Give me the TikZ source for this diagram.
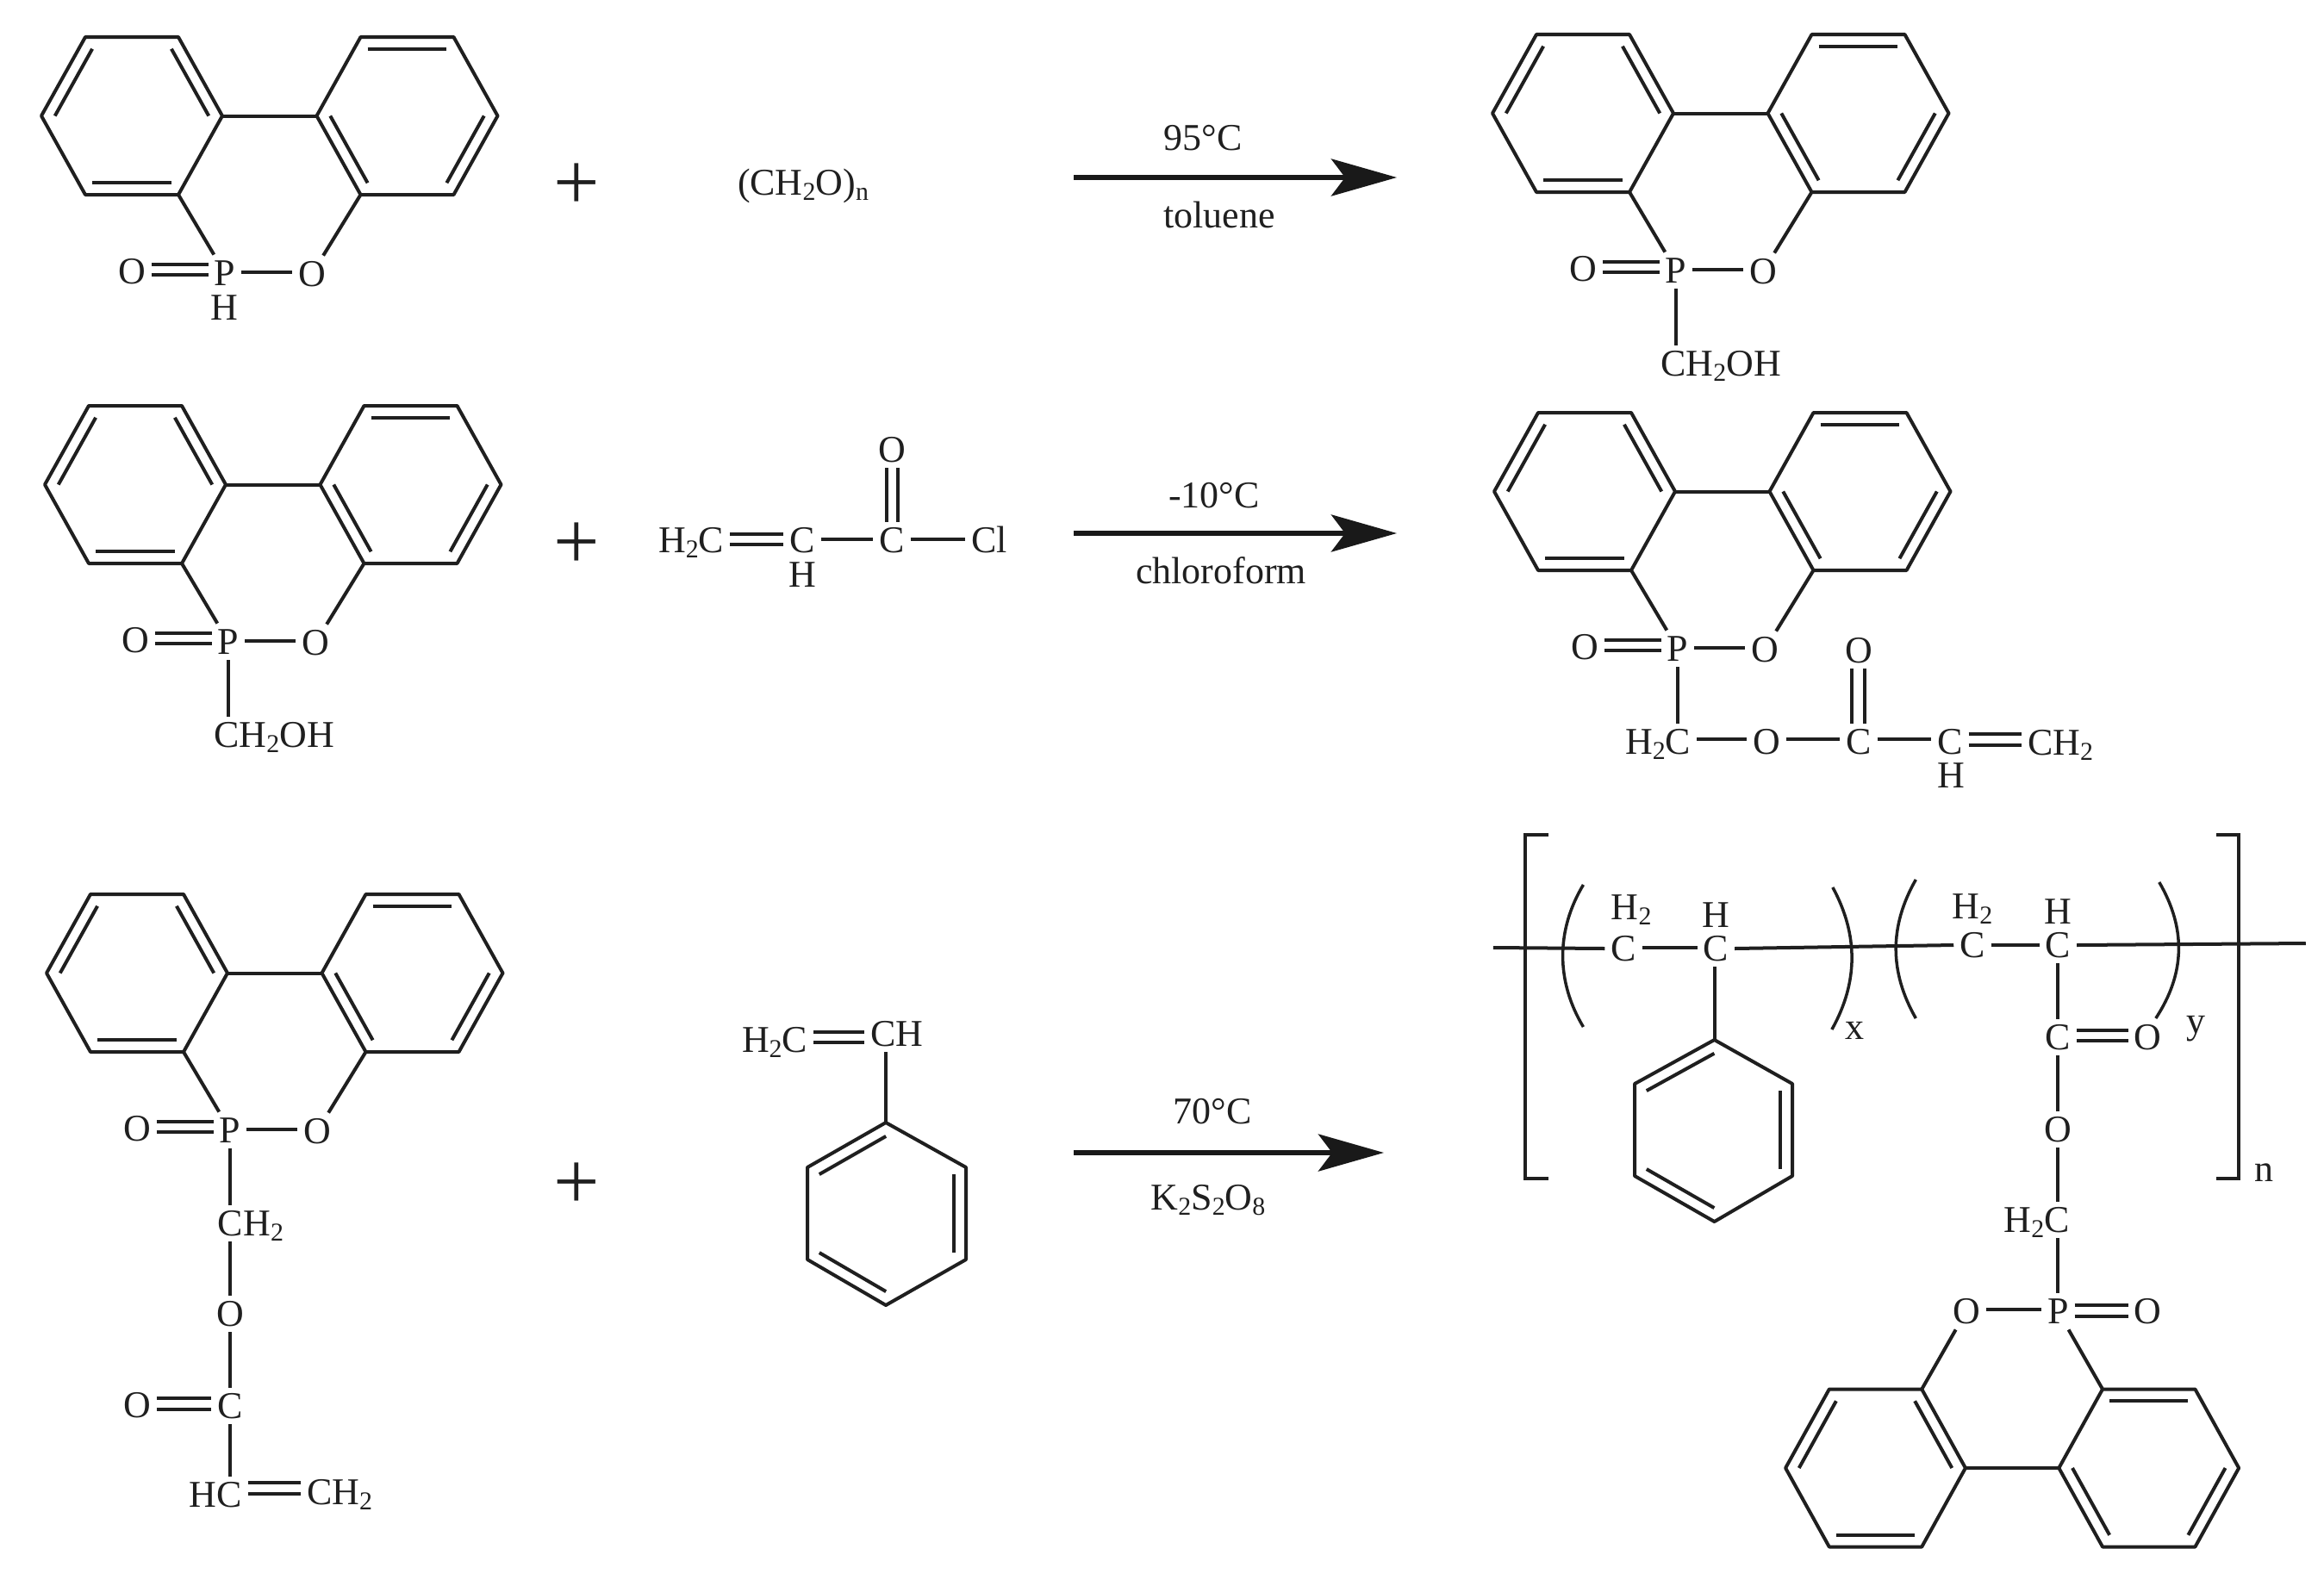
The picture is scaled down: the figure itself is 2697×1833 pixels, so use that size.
\documentclass[tikz,border=0pt]{standalone}
\usepackage{fontspec}
\setmainfont{Liberation Serif}
\usetikzlibrary{calc,arrows.meta}
\newcommand\sbs[1]{\raisebox{-.32ex}{\fontsize{8.5}{9}\selectfont #1}}
\tikzset{
  bond/.style={line width=.4mm,line join=round,black!88},
  atom/.style={font=\fontsize{12.5}{14}\selectfont,inner sep=0pt,outer sep=.7mm,text height=8.2pt,text depth=0pt,text=black!88},
  plusn/.style={font=\fontsize{27}{28}\selectfont,inner sep=0pt,text=black!88},
  rxn/.style={line width=.6mm,black!90,-{Stealth[length=7.6mm,width=4.3mm,inset=1.6mm]}},
  brk/.style={line width=.4mm,black!88},
  par/.style={line width=.35mm,black!88}
}
% single bond, horizontal, u px above the centre of the first atom
\newcommand\sbh[3]{\draw[bond] ([yshift={#3*.1mm}]#1.east) -- ([yshift={#3*.1mm}]#1.east -| #2.west);}
% double bond, horizontal
\newcommand\dbh[4]{\sbh{#1}{#2}{#3}\sbh{#1}{#2}{#4}}
% vertical bond from the foot of a to the head of b, on the line of a
\newcommand\sbv[2]{\draw[bond] (#1.south) -- (#2.north -| #1.south);}
% double bond, vertical
\newcommand\dbv[4]{\draw[bond] ([xshift={#3*.1mm}]#1.south) -- ([xshift={#3*.1mm}]#2.north);\draw[bond] ([xshift={#4*.1mm}]#1.south) -- ([xshift={#4*.1mm}]#2.north);}
% inner line of a ring's double bond
\newcommand\ibd[3]{\draw[bond] ($(#1)!.85!(#2)$) -- ($(#1)!.85!(#3)$);}
% a flat-topped six-ring: name, centre x, centre y
\newcommand\hexr[3]{%
  \coordinate (#1c) at (#2,#3);
  \coordinate (#11) at ({#2-105},#3);
  \coordinate (#12) at ({#2-54},{#3-91.5});
  \coordinate (#13) at ({#2+54},{#3-91.5});
  \coordinate (#14) at ({#2+105},#3);
  \coordinate (#15) at ({#2+54},{#3+91.5});
  \coordinate (#16) at ({#2-54},{#3+91.5});
  \draw[bond] (#11) -- (#12) -- (#13) -- (#14) -- (#15) -- (#16) -- cycle;}
% the phosphaphenanthrene unit: prefix, dx, dy
\newcommand\dopo[3]{%
  \begin{scope}[shift={(#2,#3)}]
    \hexr{#1L}{153}{134.5}
    \hexr{#1R}{472.5}{134.5}
    \ibd{#1Lc}{#1L1}{#1L2}
    \ibd{#1Lc}{#1L3}{#1L4}
    \ibd{#1Lc}{#1L5}{#1L6}
    \ibd{#1Rc}{#1R2}{#1R3}
    \ibd{#1Rc}{#1R1}{#1R6}
    \ibd{#1Rc}{#1R4}{#1R5}
    \draw[bond] (#1L4) -- (#1R1);
    \node[atom] (#1P) at (261,317) {P};
    \node[atom] (#1O) at (362,318) {O};
    \node[atom] (#1E) at (153,315) {O};
    \draw[bond] (#1L5) -- (#1P);
    \draw[bond] (#1R6) -- (#1O);
    \dbh{#1E}{#1P}{8}{-4}
    \sbh{#1P}{#1O}{1}
  \end{scope}}
\begin{document}
\begin{tikzpicture}[x=.01cm,y=-.01cm]
\useasboundingbox (0,0) rectangle (2697,1833);

% ---------- row 1
\dopo{a}{0}{0}
\node[atom] (aH) at (260,357) {H};
\node[plusn] (p1) at (669,217) {+};
\node[atom] (form) at (932,212) {(CH\sbs{2}O)\sbs{n}};
\coordinate (r1s) at (1246,206);
\coordinate (r1e) at (1621,206);
\draw[rxn] (r1s) -- (r1e);
\node[atom] (r1t) at (1396,160) {95°C};
\node[atom] (r1b) at (1415,250) {toluene};
\dopo{d}{1684}{-3}
\node[atom] (dCH) at (1997,422) {CH\sbs{2}OH};
\sbv{dP}{dCH}

% ---------- row 2
\dopo{b}{4}{428}
\node[atom] (bCH) at (318,853) {CH\sbs{2}OH};
\sbv{bP}{bCH}
\node[plusn] (p2) at (669,634) {+};
\node[atom] (ac1) at (802,627) {H\sbs{2}C};
\node[atom] (ac2) at (931,627) {C};
\node[atom] (ac2h) at (931,667) {H};
\node[atom] (ac3) at (1035,627) {C};
\node[atom] (acO) at (1035,522) {O};
\node[atom] (acCl) at (1148,627) {Cl};
\dbh{ac1}{ac2}{7}{-5}
\sbh{ac2}{ac3}{1}
\sbh{ac3}{acCl}{1}
\dbv{acO}{ac3}{-6}{7}
\coordinate (r2s) at (1246,619);
\coordinate (r2e) at (1621,619);
\draw[rxn] (r2s) -- (r2e);
\node[atom] (r2t) at (1409,575) {-10°C};
\node[atom] (r2b) at (1417,663) {chloroform};
\dopo{e}{1686}{436}
\node[atom] (eC1) at (1924,861) {H\sbs{2}C};
\node[atom] (eO) at (2050,861) {O};
\node[atom] (eC2) at (2157,861) {C};
\node[atom] (eO2) at (2157,755) {O};
\node[atom] (eC3) at (2263,861) {C};
\node[atom] (eH) at (2264,900) {H};
\node[atom] (eC4) at (2391,862) {CH\sbs{2}};
\draw[bond] (eP.south) -- (eC1.north -| eP.south);
\sbh{eC1}{eO}{3}
\sbh{eO}{eC2}{3}
\sbh{eC2}{eC3}{3}
\dbh{eC3}{eC4}{9}{-4}
\dbv{eO2}{eC2}{-8}{7}

% ---------- row 3
\dopo{c}{6}{995}
\node[atom] (cC1) at (291,1420) {CH\sbs{2}};
\node[atom] (cO) at (267,1525) {O};
\node[atom] (cC2) at (267,1632) {C};
\node[atom] (cE) at (159,1631) {O};
\node[atom] (cC3) at (250,1735) {HC};
\node[atom] (cC4) at (394,1732) {CH\sbs{2}};
\draw[bond] (cP.south) -- (cC1.north -| cP.south);
\draw[bond] (cC1.south -| cP.south) -- (cO.north);
\sbv{cO}{cC2}
\draw[bond] (cC2.south) -- (cC3.north -| cC2.south);
\dbh{cE}{cC2}{8}{-5}
\dbh{cC3}{cC4}{14}{1}
\node[plusn] (p3) at (669,1377) {+};
\node[atom] (stA) at (899,1207) {H\sbs{2}C};
\node[atom] (stB) at (1041,1200) {CH};
\coordinate (s1) at (1028,1303);
\coordinate (s2) at (1121,1355);
\coordinate (s3) at (1121,1462);
\coordinate (s4) at (1028,1515);
\coordinate (s5) at (937,1462);
\coordinate (s6) at (937,1355);
\coordinate (sc) at (1029,1409);
\draw[bond] (s1) -- (s2) -- (s3) -- (s4) -- (s5) -- (s6) -- cycle;
\ibd{sc}{s1}{s6}
\ibd{sc}{s2}{s3}
\ibd{sc}{s4}{s5}
\dbh{stA}{stB}{9}{-3}
\draw[bond] (stB.south -| s1) -- (s1);
\coordinate (r3s) at (1246,1338);
\coordinate (r3e) at (1606,1338);
\draw[rxn] (r3s) -- (r3e);
\node[atom] (r3t) at (1407,1290) {70°C};
\node[atom] (r3b) at (1402,1390) {K\sbs{2}S\sbs{2}O\sbs{8}};

% ---------- polymer
\begin{scope}[shift={(9.53,0)},xscale=.9945]
\draw[brk] (1797,969) -- (1770,969) -- (1770,1368) -- (1797,1368);
\draw[brk] (2577,969) -- (2603,969) -- (2603,1368) -- (2577,1368);
\draw[par] (1838,1027) .. controls (1806,1080) and (1806,1139) .. (1838,1192);
\draw[par] (2129,1030) .. controls (2159,1085) and (2159,1140) .. (2128,1195);
\draw[par] (2226,1021) .. controls (2195,1075) and (2195,1128) .. (2226,1182);
\draw[par] (2510,1024) .. controls (2541,1077) and (2541,1129) .. (2506,1182);
\node[atom] (pC1) at (1885,1101) {C};
\node[atom] (pH1) at (1894,1053) {H\sbs{2}};
\node[atom] (pC2) at (1993,1101) {C};
\node[atom] (pH2) at (1993,1062) {H};
\node[atom] (pC3) at (2292,1097) {C};
\node[atom] (pH3) at (2292,1052) {H\sbs{2}};
\node[atom] (pC4) at (2392,1097) {C};
\node[atom] (pH4) at (2392,1058) {H};
\node[atom] (lx) at (2155,1192) {x};
\node[atom] (ly) at (2553,1185) {y};
\node[atom] (ln) at (2632,1357) {n};
\coordinate (pL) at (1733,1100);
\coordinate (pR) at (2681,1095);
\draw[bond] (pL) -- (pC1.west);
\sbh{pC1}{pC2}{1}
\draw[bond] (pC2.east) -- (pC3.west);
\sbh{pC3}{pC4}{0}
\draw[bond] (pC4.east) -- (pR);
\coordinate (q1) at (1991,1207);
\coordinate (q2) at (2082,1258);
\coordinate (q3) at (2082,1365);
\coordinate (q4) at (1991,1418);
\coordinate (q5) at (1898,1365);
\coordinate (q6) at (1898,1258);
\coordinate (qc) at (1990,1312);
\draw[bond] (q1) -- (q2) -- (q3) -- (q4) -- (q5) -- (q6) -- cycle;
\ibd{qc}{q1}{q6}
\ibd{qc}{q2}{q3}
\ibd{qc}{q4}{q5}
\draw[bond] (pC2.south -| q1) -- (q1);
\node[atom] (pC5) at (2392,1204) {C};
\node[atom] (pE) at (2497,1204) {O};
\node[atom] (pO) at (2392,1311) {O};
\node[atom] (pC6) at (2367,1416) {H\sbs{2}C};
\node[atom] (pP) at (2392,1522) {P};
\node[atom] (pOl) at (2285,1522) {O};
\node[atom] (pOr) at (2497,1522) {O};
\sbv{pC4}{pC5}
\sbv{pC5}{pO}
\draw[bond] (pO.south) -- (pC6.north -| pO.south);
\draw[bond] (pC6.south -| pP.north) -- (pP.north);
\dbh{pC5}{pE}{8}{-4}
\dbh{pP}{pOr}{7}{-6}
\sbh{pOl}{pP}{2}
\hexr{fL}{2179}{1704}
\hexr{fR}{2498}{1704}
\ibd{fLc}{fL1}{fL2}
\ibd{fLc}{fL3}{fL4}
\ibd{fLc}{fL5}{fL6}
\ibd{fRc}{fR2}{fR3}
\ibd{fRc}{fR1}{fR6}
\ibd{fRc}{fR4}{fR5}
\draw[bond] (fL4) -- (fR1);
\draw[bond] (pOl) -- (fL3);
\draw[bond] (pP) -- (fR2);
\end{scope}
\end{tikzpicture}
\end{document}
